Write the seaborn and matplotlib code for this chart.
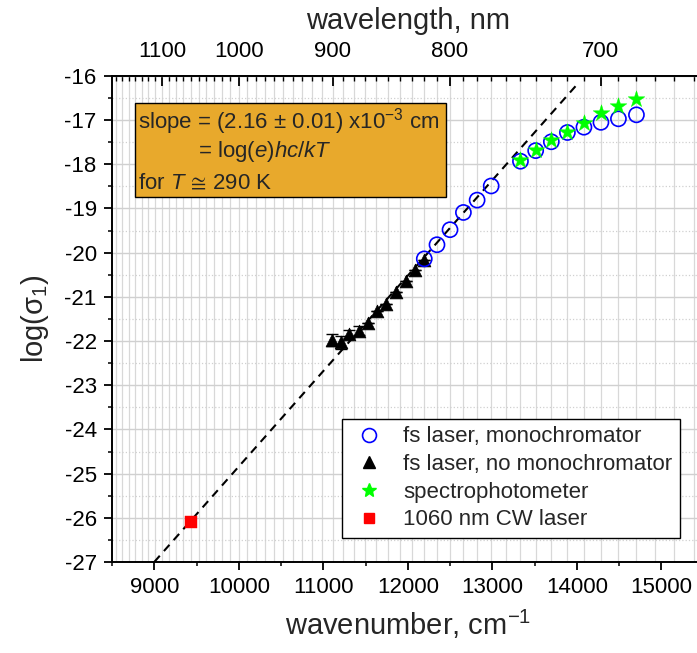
import numpy as np
import matplotlib
matplotlib.use("Agg")
import matplotlib.pyplot as plt
from matplotlib.lines import Line2D
from matplotlib.patches import Rectangle
from matplotlib.ticker import MultipleLocator, FixedLocator
import seaborn as sns

# fs laser through the monochromator: wavelength (nm) and log(sigma_1)
mono_nm = [820, 810, 800, 790, 780, 770, 750, 740, 730, 720, 710, 700, 690, 680]
mono_log = [-20.14, -19.82, -19.48, -19.09, -18.81, -18.49, -17.93, -17.69,
            -17.49, -17.28, -17.16, -17.05, -16.97, -16.88]

# fs laser without monochromator: wavenumber (cm^-1) and log(sigma_1)
nomono_wn = [11100, 11210, 11310, 11420, 11525, 11635, 11745, 11860, 11975, 12085, 12195]
nomono_log = [-21.97, -22.03, -21.84, -21.77, -21.60, -21.33, -21.17, -20.88,
              -20.65, -20.40, -20.16]
nomono_err = [0.14, 0.14, 0.10, 0.10, 0, 0, 0, 0, 0, 0, 0]

# spectrophotometer: wavelength (nm) and log(sigma_1)
spectro_nm = [750, 740, 730, 720, 710, 700, 690, 680]
spectro_log = [-17.90, -17.67, -17.46, -17.26, -17.06, -16.84, -16.69, -16.52]

# 1060 nm CW laser
cw_nm = [1060]
cw_log = [-26.10]

# linear fit: log(sigma_1) = slope * wavenumber + intercept
fit_slope = 2.16e-3
fit_intercept = -46.44
fit_range = [9000, 14000]

# axis ticks
y_ticks = list(range(-27, -15))
top_major_nm = [1100, 1000, 900, 800, 700]
top_minor_nm = list(range(650, 1180, 10))

legend_labels = ["fs laser, monochromator", "fs laser, no monochromator",
                 "spectrophotometer", "1060 nm CW laser"]


def nm_to_wn(v):
    v = np.asarray(v, dtype=float)
    with np.errstate(divide="ignore"):
        return 1e7 / v


sns.set_style("white")
plt.rcParams["font.family"] = ["Liberation Sans", "DejaVu Sans"]
plt.rcParams["mathtext.fontset"] = "custom"
plt.rcParams["mathtext.rm"] = "Liberation Sans"
plt.rcParams["mathtext.it"] = "Liberation Sans:italic"
plt.rcParams["mathtext.default"] = "regular"
plt.rcParams["mathtext.fallback"] = "stixsans"
plt.rcParams["axes.unicode_minus"] = False

fig = plt.figure(figsize=(6.97, 6.53), dpi=100)
ax = fig.add_axes([0.1607, 0.1394, 0.8487, 0.7443])
ax.set_xlim(8500, 15500)
ax.set_ylim(-27, -16)
ax.set_axisbelow(True)

# grid: wavelength lines every 10 nm, log lines every 0.5
ax.vlines(nm_to_wn(top_minor_nm), -27, -16, colors="#d8d8d8", lw=0.9, zorder=0)
ax.yaxis.set_major_locator(FixedLocator(y_ticks))
ax.yaxis.set_minor_locator(MultipleLocator(0.5))
ax.xaxis.set_major_locator(MultipleLocator(1000))
ax.xaxis.set_minor_locator(MultipleLocator(500))
ax.grid(axis="y", which="major", color="#d0d0d0", lw=1.0)
ax.grid(axis="y", which="minor", color="#d0d0d0", lw=0.9, ls=":")
ax.grid(axis="x", which="both", visible=False)

# fit line
fit_x = np.array(fit_range, dtype=float)
fit_y = fit_slope * fit_x + fit_intercept
sns.lineplot(x=fit_x, y=fit_y, ax=ax, color="black", lw=1.5,
             linestyle=(0, (4, 3)), zorder=2)

# data
ax.errorbar(nomono_wn, nomono_log, yerr=nomono_err, fmt="none",
            ecolor="black", elinewidth=1, capsize=4.5, capthick=1, zorder=3)
sns.scatterplot(x=nomono_wn, y=nomono_log, ax=ax, marker="^", s=85,
                color="black", edgecolor="black", linewidth=0.5, zorder=4)
sns.scatterplot(x=nm_to_wn(mono_nm), y=mono_log, ax=ax, marker="o", s=118,
                color="blue", facecolor="none", edgecolor="blue",
                linewidth=1.2, zorder=5)
sns.scatterplot(x=nm_to_wn(spectro_nm), y=spectro_log, ax=ax, marker="*", s=160,
                color="#00ff00", edgecolor="#00ff00", linewidth=0.3, zorder=6)
sns.scatterplot(x=nm_to_wn(cw_nm), y=cw_log, ax=ax, marker="s", s=75,
                color="red", edgecolor="red", linewidth=0.3, zorder=6)

# spines and ticks
for side in ["left", "bottom", "top"]:
    ax.spines[side].set_color("black")
    ax.spines[side].set_linewidth(1.4)
ax.spines["right"].set_visible(False)
ax.tick_params(axis="both", which="major", direction="out", length=6,
               width=1.3, labelsize=16, colors="black")
ax.tick_params(axis="both", which="minor", direction="out", length=3,
               width=1.1, colors="black")
ax.tick_params(axis="x", which="both", top=False, bottom=True, pad=5)
ax.tick_params(axis="y", which="both", left=True, right=False, pad=5)
ax.set_xlabel("wavenumber, cm$^{-1}$", fontsize=21, labelpad=7)
ax.set_ylabel("log(σ$_1$)", fontsize=21, labelpad=10)

secax = ax.secondary_xaxis("top", functions=(nm_to_wn, nm_to_wn))
secax.xaxis.set_major_locator(FixedLocator(top_major_nm))
secax.xaxis.set_minor_locator(FixedLocator(top_minor_nm))
secax.tick_params(which="major", direction="in", length=7, width=1.3,
                  labelsize=16, pad=10, colors="black")
secax.tick_params(which="minor", direction="in", length=3.5, width=1.0,
                  colors="black")
secax.spines["top"].set_linewidth(1.4)
secax.set_xlabel("wavelength, nm", fontsize=21, labelpad=9)

# annotation box
ax.add_patch(Rectangle((0.0389, 0.751), 0.5258, 0.1934, transform=ax.transAxes,
                       facecolor="#e8a92c", edgecolor="black", lw=1, zorder=7))
ax.text(0.044, 0.907, "slope = (2.16 ± 0.01) x10$^{-3}$ cm", transform=ax.transAxes,
        fontsize=16, va="center", ha="left", zorder=8)
ax.text(0.1454, 0.8436, r"= log($\mathit{e}$)$\mathit{hc/kT}$", transform=ax.transAxes,
        fontsize=16, va="center", ha="left", zorder=8)
ax.text(0.044, 0.780, r"for $\mathit{T}\,\cong\,$290 K", transform=ax.transAxes,
        fontsize=16, va="center", ha="left", zorder=8)

# legend
handles = [
    Line2D([], [], ls="none", marker="o", mfc="none", mec="blue", mew=1.2, ms=10),
    Line2D([], [], ls="none", marker="^", mfc="black", mec="black", ms=8),
    Line2D([], [], ls="none", marker="*", mfc="#00ff00", mec="#00ff00", ms=10),
    Line2D([], [], ls="none", marker="s", mfc="red", mec="red", ms=7),
]
leg = ax.legend(handles, legend_labels, loc="lower left",
                bbox_to_anchor=(0.389, 0.049), borderaxespad=0, fontsize=16,
                frameon=True, fancybox=False, framealpha=1, edgecolor="black",
                borderpad=0.35, handlelength=1.7, handletextpad=0.7,
                labelspacing=0.3)
leg.get_frame().set_linewidth(1.0)
leg.set_zorder(9)

fig.savefig("out.png", dpi=100)
